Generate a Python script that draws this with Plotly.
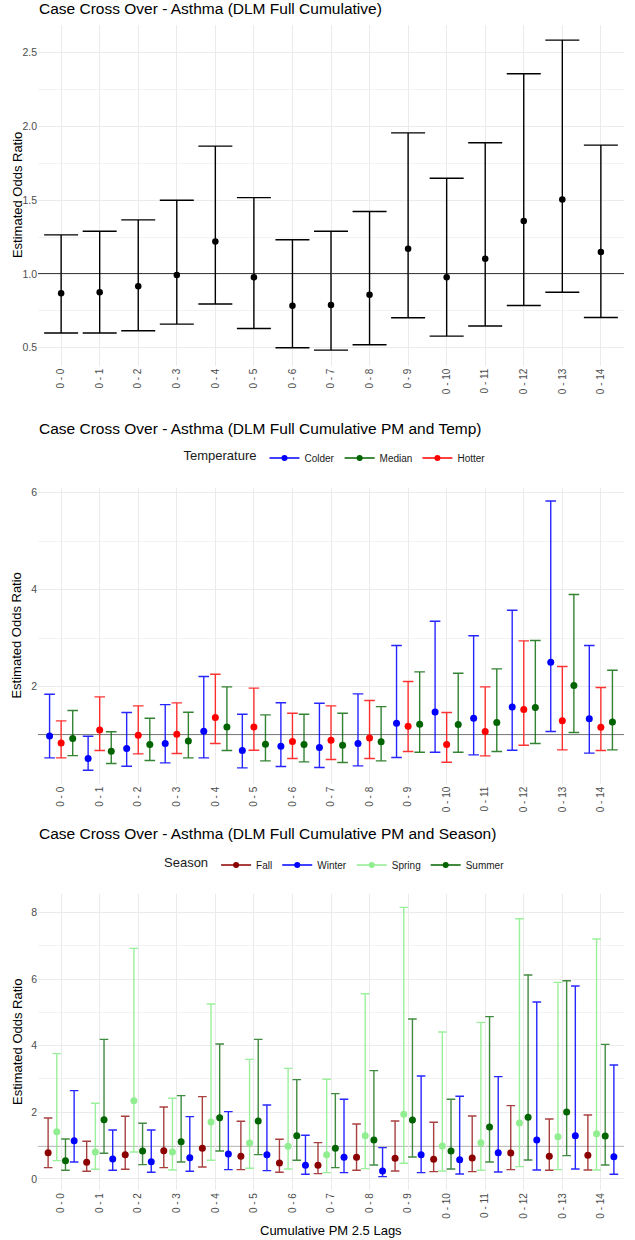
import plotly.graph_objects as go

# ---------------- data ----------------
lags = ["0 - 0", "0 - 1", "0 - 2", "0 - 3", "0 - 4", "0 - 5", "0 - 6", "0 - 7",
        "0 - 8", "0 - 9", "0 - 10", "0 - 11", "0 - 12", "0 - 13", "0 - 14"]

overall_est = [0.870, 0.876, 0.917, 0.993, 1.220, 0.978, 0.784, 0.790, 0.860, 1.171, 0.978, 1.104, 1.360, 1.505, 1.150]
overall_lo = [0.600, 0.600, 0.615, 0.660, 0.797, 0.630, 0.500, 0.484, 0.520, 0.703, 0.579, 0.647, 0.786, 0.876, 0.705]
overall_hi = [1.265, 1.290, 1.367, 1.500, 1.867, 1.518, 1.232, 1.290, 1.424, 1.957, 1.649, 1.890, 2.358, 2.586, 1.874]

colder_est = [0.986, 0.520, 0.725, 0.830, 1.082, 0.684, 0.773, 0.746, 0.830, 1.247, 1.480, 1.350, 1.584, 2.505, 1.337]
colder_lo = [0.533, 0.278, 0.360, 0.430, 0.533, 0.326, 0.354, 0.333, 0.368, 0.540, 0.650, 0.595, 0.690, 1.076, 0.630]
colder_hi = [1.845, 0.980, 1.467, 1.630, 2.210, 1.433, 1.670, 1.660, 1.852, 2.850, 3.350, 3.050, 3.577, 5.830, 2.850]
hotter_est = [0.842, 1.110, 1.000, 1.020, 1.364, 1.170, 0.870, 0.897, 0.945, 1.186, 0.810, 1.076, 1.530, 1.300, 1.165]
hotter_lo = [0.533, 0.684, 0.615, 0.622, 0.830, 0.690, 0.520, 0.498, 0.520, 0.663, 0.443, 0.574, 0.794, 0.698, 0.684]
hotter_hi = [1.296, 1.790, 1.605, 1.667, 2.258, 1.970, 1.454, 1.605, 1.715, 2.107, 1.467, 1.997, 2.945, 2.416, 1.983]
median_est = [0.930, 0.670, 0.810, 0.883, 1.170, 0.814, 0.810, 0.794, 0.863, 1.227, 1.220, 1.260, 1.570, 2.024, 1.275]
median_lo = [0.580, 0.416, 0.478, 0.533, 0.684, 0.470, 0.450, 0.436, 0.470, 0.650, 0.650, 0.663, 0.830, 1.055, 0.698]
median_hi = [1.510, 1.070, 1.350, 1.474, 1.997, 1.420, 1.433, 1.454, 1.590, 2.306, 2.278, 2.368, 2.952, 3.900, 2.340]

fall_est = [0.79, 0.50, 0.73, 0.85, 0.92, 0.68, 0.48, 0.41, 0.65, 0.62, 0.59, 0.63, 0.78, 0.68, 0.71]
fall_lo = [0.34, 0.23, 0.29, 0.34, 0.36, 0.28, 0.20, 0.16, 0.26, 0.24, 0.22, 0.22, 0.28, 0.26, 0.27]
fall_hi = [1.83, 1.13, 1.88, 2.16, 2.47, 1.73, 1.19, 1.09, 1.65, 1.74, 1.70, 1.89, 2.20, 1.80, 1.92]
spring_est = [1.42, 0.81, 2.35, 0.81, 1.71, 1.08, 0.98, 0.73, 1.30, 1.94, 0.99, 1.09, 1.68, 1.27, 1.36]
spring_lo = [0.55, 0.29, 0.81, 0.27, 0.56, 0.32, 0.30, 0.19, 0.31, 0.47, 0.24, 0.26, 0.37, 0.28, 0.27]
spring_hi = [3.76, 2.27, 6.92, 2.42, 5.25, 3.59, 3.32, 2.99, 5.56, 8.15, 4.41, 4.70, 7.81, 5.90, 7.20]
summer_est = [0.55, 1.78, 0.84, 1.12, 1.84, 1.74, 1.30, 0.92, 1.17, 1.77, 0.84, 1.56, 1.85, 2.01, 1.29]
summer_lo = [0.26, 0.77, 0.43, 0.51, 0.84, 0.73, 0.56, 0.34, 0.42, 0.66, 0.30, 0.51, 0.57, 0.70, 0.42]
summer_hi = [1.20, 4.19, 1.67, 2.50, 4.05, 4.19, 2.98, 2.56, 3.25, 4.80, 2.39, 4.87, 6.12, 5.95, 4.04]
winter_est = [1.15, 0.60, 0.52, 0.64, 0.75, 0.73, 0.41, 0.65, 0.24, 0.73, 0.58, 0.79, 1.17, 1.30, 0.67]
winter_lo = [0.51, 0.26, 0.20, 0.23, 0.28, 0.25, 0.14, 0.19, 0.07, 0.19, 0.15, 0.21, 0.27, 0.30, 0.14]
winter_hi = [2.65, 1.47, 1.47, 1.87, 2.02, 2.22, 1.31, 2.39, 0.94, 3.09, 2.48, 3.07, 5.31, 5.79, 3.42]

# ---------------- layout constants ----------------
W, H = 635, 1240
FONT = "Liberation Sans, Arial, Helvetica, sans-serif"
TICK_COLOR = "#4d4d4d"
GRID = "#ebebeb"
MINOR = "#f3f3f3"
DODGE = 0.9
X_LEFT, X_RIGHT = 38, 624


def px_x(p):
    return p / W


def ydom(top, bot):
    return [1 - bot / H, 1 - top / H]


def expand(los, his):
    lo, hi = min(min(l) for l in los), max(max(h) for h in his)
    pad = (hi - lo) * 0.05
    return [lo - pad, hi + pad]


idx = list(range(len(lags)))
fig = go.Figure()


def add_group(series, xa, ya, cap, msize):
    n = len(series)
    for i, (name, color, ecolor, est, lo, hi) in enumerate(series):
        off = (i - (n - 1) / 2) * (DODGE / n)
        fig.add_trace(go.Scatter(
            x=[k + off for k in idx], y=est, mode="markers",
            marker=dict(color=color, size=msize),
            error_y=dict(type="data", symmetric=False,
                         array=[h - e for h, e in zip(hi, est)],
                         arrayminus=[e - l for e, l in zip(est, lo)],
                         color=ecolor, thickness=1.4, width=cap),
            xaxis=xa, yaxis=ya, showlegend=False, name=name,
        ))


# Panel 1
add_group([("Overall", "black", "black", overall_est, overall_lo, overall_hi)],
          "x", "y", 17, 6.5)

# Panel 2 (dodge order: Colder, Hotter, Median)
temp_series = [
    ("Colder", "blue", "rgba(0,0,255,0.85)", colder_est, colder_lo, colder_hi),
    ("Hotter", "red", "rgba(255,0,0,0.8)", hotter_est, hotter_lo, hotter_hi),
    ("Median", "darkgreen", "rgba(0,100,0,0.8)", median_est, median_lo, median_hi),
]
add_group(temp_series, "x2", "y2", 5.3, 7)

# Panel 3 (dodge order: Fall, Spring, Summer, Winter)
season_series = [
    ("Fall", "darkred", "rgba(139,0,0,0.75)", fall_est, fall_lo, fall_hi),
    ("Spring", "lightgreen", "rgba(144,238,144,0.9)", spring_est, spring_lo, spring_hi),
    ("Summer", "darkgreen", "rgba(0,100,0,0.75)", summer_est, summer_lo, summer_hi),
    ("Winter", "blue", "rgba(0,0,255,0.85)", winter_est, winter_lo, winter_hi),
]
add_group(season_series, "x3", "y3", 4.3, 7)

# legend-only entries (line + point like ggplot keys)
temp_legend = [("Colder", "blue"), ("Median", "darkgreen"), ("Hotter", "red")]
season_legend = [("Fall", "darkred"), ("Winter", "blue"), ("Spring", "lightgreen"), ("Summer", "darkgreen")]
for name, color in temp_legend:
    fig.add_trace(go.Scatter(x=[None], y=[None], mode="lines+markers", name=name,
                             line=dict(color=color, width=1.5), marker=dict(color=color, size=6),
                             xaxis="x2", yaxis="y2", legend="legend"))
for name, color in season_legend:
    fig.add_trace(go.Scatter(x=[None], y=[None], mode="lines+markers", name=name,
                             line=dict(color=color, width=1.5), marker=dict(color=color, size=6),
                             xaxis="x3", yaxis="y3", legend="legend2"))

# ---------------- axes ----------------
xdom = [px_x(X_LEFT), px_x(X_RIGHT)]
xcommon = dict(range=[-0.6, len(lags) - 0.4], tickmode="array", tickvals=idx, ticktext=lags,
               tickangle=-90, tickfont=dict(size=10, color=TICK_COLOR, family=FONT),
               showgrid=True, gridcolor=GRID, gridwidth=1, zeroline=False, showline=False,
               ticks="", domain=xdom)

r1 = expand([overall_lo], [overall_hi])
r2 = expand([colder_lo, hotter_lo, median_lo], [colder_hi, hotter_hi, median_hi])
r3 = expand([fall_lo, spring_lo, summer_lo, winter_lo], [fall_hi, spring_hi, summer_hi, winter_hi])

ycommon = dict(tickfont=dict(size=10.5, color=TICK_COLOR, family=FONT), showgrid=True,
               gridcolor=GRID, gridwidth=1, zeroline=False, showline=False, ticks="")

fig.update_layout(
    xaxis=dict(**xcommon, anchor="y"),
    xaxis2=dict(**xcommon, anchor="y2"),
    xaxis3=dict(**xcommon, anchor="y3"),
    yaxis=dict(**ycommon, range=r1, domain=ydom(24.6, 365.6), anchor="x",
               tickmode="array", tickvals=[0.5, 1.0, 1.5, 2.0, 2.5],
               ticktext=["0.5", "1.0", "1.5", "2.0", "2.5"],
               minor=dict(tickmode="array", tickvals=[0.75, 1.25, 1.75, 2.25],
                          showgrid=True, gridcolor=MINOR, gridwidth=0.7, ticks="")),
    yaxis2=dict(**ycommon, range=r2, domain=ydom(487.5, 783.7), anchor="x2",
                tickmode="array", tickvals=[2, 4, 6],
                minor=dict(tickmode="array", tickvals=[1, 3, 5],
                           showgrid=True, gridcolor=MINOR, gridwidth=0.7, ticks="")),
    yaxis3=dict(**ycommon, range=r3, domain=ydom(893.9, 1190.1), anchor="x3",
                tickmode="array", tickvals=[0, 2, 4, 6, 8],
                minor=dict(tickmode="array", tickvals=[1, 3, 5, 7],
                           showgrid=True, gridcolor=MINOR, gridwidth=0.7, ticks="")),
)

# reference line at OR = 1
for xr, yr in [("x", "y"), ("x2", "y2"), ("x3", "y3")]:
    fig.add_shape(type="line", xref=f"{xr} domain", yref=yr, x0=0, x1=1, y0=1, y1=1,
                  line=dict(color="black", width=1.3), layer="below")

# ---------------- text ----------------
titles = [
    ("Case Cross Over - Asthma (DLM Full Cumulative)", 9),
    ("Case Cross Over - Asthma (DLM Full Cumulative PM and Temp)", 428),
    ("Case Cross Over - Asthma (DLM Full Cumulative PM and Season)", 833),
]
for text, ypx in titles:
    fig.add_annotation(text=text, xref="paper", yref="paper", x=px_x(37), y=1 - ypx / H,
                       xanchor="left", yanchor="middle", showarrow=False,
                       font=dict(size=15.5, color="black", family=FONT))

for ypx in [(24.6 + 365.6) / 2, (487.5 + 783.7) / 2, (893.9 + 1190.1) / 2]:
    fig.add_annotation(text="Estimated Odds Ratio", xref="paper", yref="paper",
                       x=px_x(17), y=1 - ypx / H, textangle=-90, showarrow=False,
                       xanchor="center", yanchor="middle",
                       font=dict(size=13, color="black", family=FONT))

fig.add_annotation(text="Cumulative PM 2.5 Lags", xref="paper", yref="paper",
                   x=px_x((X_LEFT + X_RIGHT) / 2), y=1 - 1230 / H, showarrow=False,
                   xanchor="center", yanchor="middle",
                   font=dict(size=13, color="black", family=FONT))

legend_common = dict(orientation="h", xanchor="center", yanchor="middle",
                     bgcolor="rgba(0,0,0,0)", font=dict(size=10, color="#1a1a1a", family=FONT),
                     itemwidth=30, traceorder="normal")
fig.update_layout(
    legend=dict(**legend_common, x=px_x(336), y=1 - 458 / H,
                title=dict(text="Temperature", side="left", font=dict(size=13, family=FONT))),
    legend2=dict(**legend_common, x=px_x(336), y=1 - 865 / H,
                 title=dict(text="Season", side="left", font=dict(size=13, family=FONT))),
    width=W, height=H,
    margin=dict(l=0, r=0, t=0, b=0),
    paper_bgcolor="white", plot_bgcolor="white",
    font=dict(family=FONT),
    showlegend=True,
)

fig.write_html("out.html", config={"displayModeBar": False},
               post_script="document.body.style.margin='0';document.body.style.overflow='hidden';")
